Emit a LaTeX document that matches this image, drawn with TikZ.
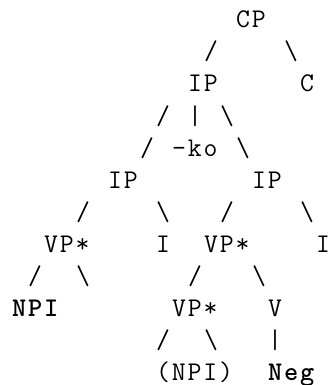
\documentclass[tikz,border=0pt]{standalone}
\usepackage{fontspec}
\newfontfamily\cwfont{lmmono12-regular.otf}[LetterSpace=6.7, BoldFont=lmmonolt10-bold.otf]
\usepackage{tikz}

\begin{document}
\begin{tikzpicture}[x=16pt, y=-32pt,
	tok/.style={anchor=base west, inner sep=0pt, font=\cwfont\fontsize{27}{32}\selectfont},
	btok/.style={tok, font=\cwfont\bfseries\fontsize{27}{32}\selectfont}]
	% page size of the reference
	\useasboundingbox (0.25, -0.875) rectangle (20.875, 11.156);
	% row 0 -- 2
	\node[tok] (cp) at (15, 0) {CP};
	\node[tok] (cpl) at (13, 1) {/};
	\node[tok] (cpr) at (18, 1) {\textbackslash};
	\node[tok] (iptop) at (12, 2) {IP};
	\node[tok] (c) at (19, 2) {C};
	% row 3 -- 4
	\node[tok] (ipla) at (10, 3) {/};
	\node[tok] (ipm) at (12, 3) {|};
	\node[tok] (ipra) at (14, 3) {\textbackslash};
	\node[tok] (iplb) at (9, 4) {/};
	\node[tok] (ko) at (11, 4) {-ko};
	\node[tok] (iprb) at (15, 4) {\textbackslash};
	% row 5 -- 7
	\node[tok] (ipl) at (7, 5) {IP};
	\node[tok] (ipr) at (16, 5) {IP};
	\node[tok] (ipll) at (5, 6) {/};
	\node[tok] (iplr) at (10, 6) {\textbackslash};
	\node[tok] (iprl) at (14, 6) {/};
	\node[tok] (iprr) at (19, 6) {\textbackslash};
	\node[tok] (vpl) at (3, 7) {VP*};
	\node[tok] (il) at (10, 7) {I};
	\node[tok] (vpr) at (13, 7) {VP*};
	\node[tok] (ir) at (20, 7) {I};
	% row 8 -- 9
	\node[tok] (vpll) at (2, 8) {/};
	\node[tok] (vplr) at (5, 8) {\textbackslash};
	\node[tok] (vprl) at (12, 8) {/};
	\node[tok] (vprr) at (16, 8) {\textbackslash};
	\node[btok] (npi) at (1, 9) {NPI};
	\node[tok] (vplow) at (11, 9) {VP*};
	\node[tok] (v) at (17, 9) {V};
	% row 10 -- 11
	\node[tok] (vplowl) at (10, 10) {/};
	\node[tok] (vplowr) at (13, 10) {\textbackslash};
	\node[tok] (vm) at (17, 10) {|};
	\node[tok] (npib) at (10, 11) {(NPI)};
	\node[btok] (neg) at (17, 11) {Neg};
\end{tikzpicture}
\end{document}
